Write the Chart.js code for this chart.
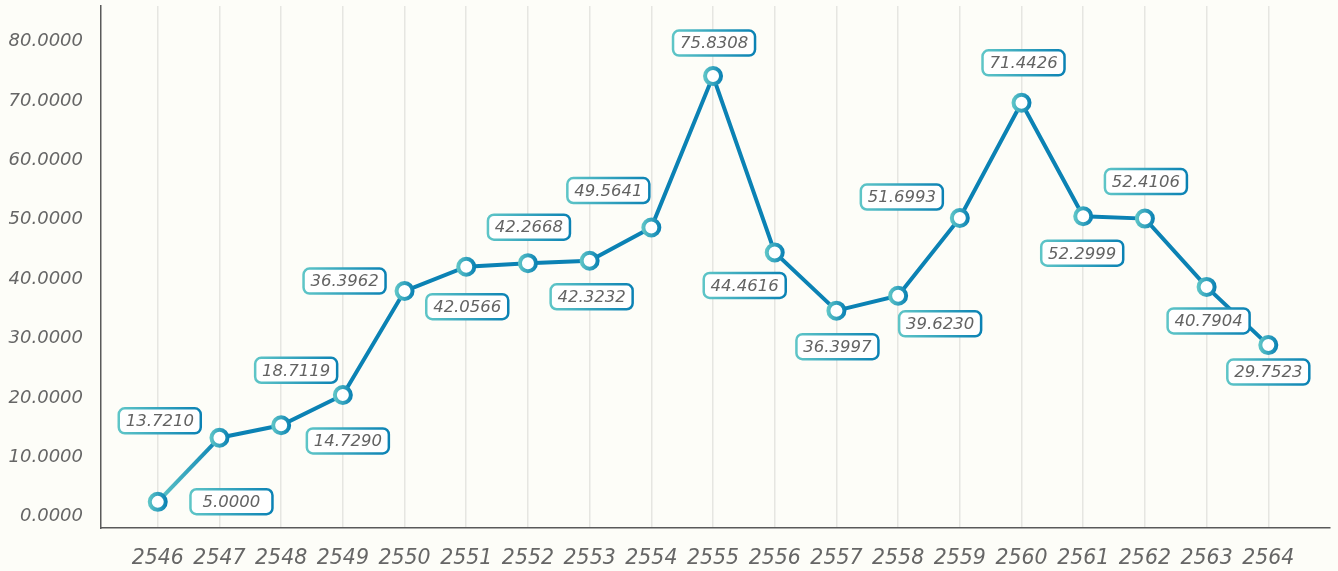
<!DOCTYPE html>
<html>
<head>
<meta charset="UTF-8">
<title>2546 - 2564</title>
<style>
  html, body { margin: 0; padding: 0; background: #fdfdf8; }
  #wrap { width: 1338px; height: 571px; }
</style>
</head>
<body>
<div id="wrap"><canvas id="chart"></canvas></div>
<script src="https://cdn.jsdelivr.net/npm/chart.js"></script>
<script>
const years = [2546, 2547, 2548, 2549, 2550, 2551, 2552, 2553, 2554, 2555, 2556, 2557, 2558, 2559, 2560, 2561, 2562, 2563, 2564];
const values = [2.5, 13.3, 15.4, 20.5, 38.0, 42.1, 42.7, 43.1, 48.7, 74.2, 44.5, 34.7, 37.2, 50.3, 69.7, 50.6, 50.2, 38.7, 28.9];
const labelTexts = ['13.7210', '5.0000', '18.7119', '14.7290', '36.3962', '42.0566', '42.2668', '42.3232', '49.5641', '75.8308',
                    '44.4616', '36.3997', '39.6230', '51.6993', '71.4426', '52.2999', '52.4106', '40.7904', '29.7523'];
const yTicks = [0, 10, 20, 30, 40, 50, 60, 70, 80];

// where each value box sits, relative to its point (px)
const labelOffsets = [[2, -81], [12, 64], [15, -55], [5, 46], [-60, -10], [1, 40], [1, -36], [2, 36], [-43, -37], [1, -33],
                      [-30, 33], [1, 36], [42, 28], [-58, -21], [2, -40], [-1, 37], [1, -37], [2, 34], [0, 27]];

const FONT = '"DejaVu Sans", sans-serif';
const TEAL = '#5ec5c7';
const BLUE = '#0b82b4';

function hGrad(c, x0, x1) {
    const g = c.createLinearGradient(x0, 0, x1, 0);
    g.addColorStop(0, TEAL);
    g.addColorStop(1, BLUE);
    return g;
}

// value boxes
const boxLabels = {
    id: 'boxLabels',
    afterDatasetsDraw(chart) {
        const c = chart.ctx;
        const pts = chart.getDatasetMeta(0).data;
        c.save();
        c.font = 'italic 16.5px ' + FONT;
        c.textAlign = 'center';
        c.textBaseline = 'middle';
        pts.forEach((p, i) => {
            const cx = p.x + labelOffsets[i][0];
            const cy = p.y + labelOffsets[i][1];
            const w = 82, h = 25;
            c.beginPath();
            c.roundRect(cx - w / 2, cy - h / 2, w, h, 6);
            c.fillStyle = '#ffffff';
            c.fill();
            c.lineWidth = 2.5;
            c.strokeStyle = hGrad(c, cx - w / 2, cx + w / 2);
            c.stroke();
            c.fillStyle = '#636363';
            c.fillText(labelTexts[i], cx, cy + 1);
        });
        c.restore();
    }
};

new Chart(document.getElementById('chart'), {
    type: 'line',
    data: {
        datasets: [{
            data: years.map((y, i) => ({ x: y, y: values[i] })),
            borderColor: BLUE,
            borderWidth: 4,
            tension: 0,
            pointRadius: 8,
            pointHoverRadius: 8,
            pointBorderWidth: 4,
            pointBackgroundColor: '#ffffff',
            pointBorderColor: function (ctx) {
                const ch = ctx.chart;
                if (!ch.chartArea || !ch.scales.x) return BLUE;
                const px = ch.scales.x.getPixelForValue(years[ctx.dataIndex]);
                return hGrad(ch.ctx, px - 9, px + 9);
            },
            segment: {
                borderColor: ctx => ctx.p0DataIndex === 0 ? hGrad(ctx.chart.ctx, ctx.p0.x, ctx.p1.x) : undefined
            },
            clip: false
        }]
    },
    options: {
        responsive: true,
        maintainAspectRatio: false,
        animation: false,
        layout: { autoPadding: false, padding: { top: 6, right: 8, left: 0, bottom: 0 } },
        plugins: {
            legend: { display: false },
            tooltip: { enabled: false }
        },
        scales: {
            x: {
                type: 'linear',
                min: 2545.08,
                max: 2565.0,
                afterBuildTicks: s => { s.ticks = years.map(v => ({ value: v })); },
                afterFit: s => { s.height = 43; s.paddingLeft = 0; s.paddingRight = 0; },
                grid: { color: '#e6e6e1', lineWidth: 1.5, drawTicks: false },
                border: { display: true, color: '#5a5a5a', width: 1.5 },
                ticks: {
                    font: { family: FONT, size: 20.5, style: 'italic' },
                    color: '#666666',
                    padding: 18,
                    maxRotation: 0,
                    autoSkip: false,
                    callback: v => String(v)
                }
            },
            y: {
                min: -1.9,
                max: 86,
                afterBuildTicks: s => { s.ticks = yTicks.map(v => ({ value: v })); },
                afterFit: s => { s.width = 101; s.paddingTop = 0; s.paddingBottom = 0; },
                grid: { display: false, drawTicks: false },
                border: { display: true, color: '#5a5a5a', width: 1.5 },
                ticks: {
                    font: { family: FONT, size: 18, style: 'italic' },
                    color: '#666666',
                    padding: 18,
                    callback: v => v.toFixed(4)
                }
            }
        }
    },
    plugins: [boxLabels]
});
</script>
</body>
</html>
